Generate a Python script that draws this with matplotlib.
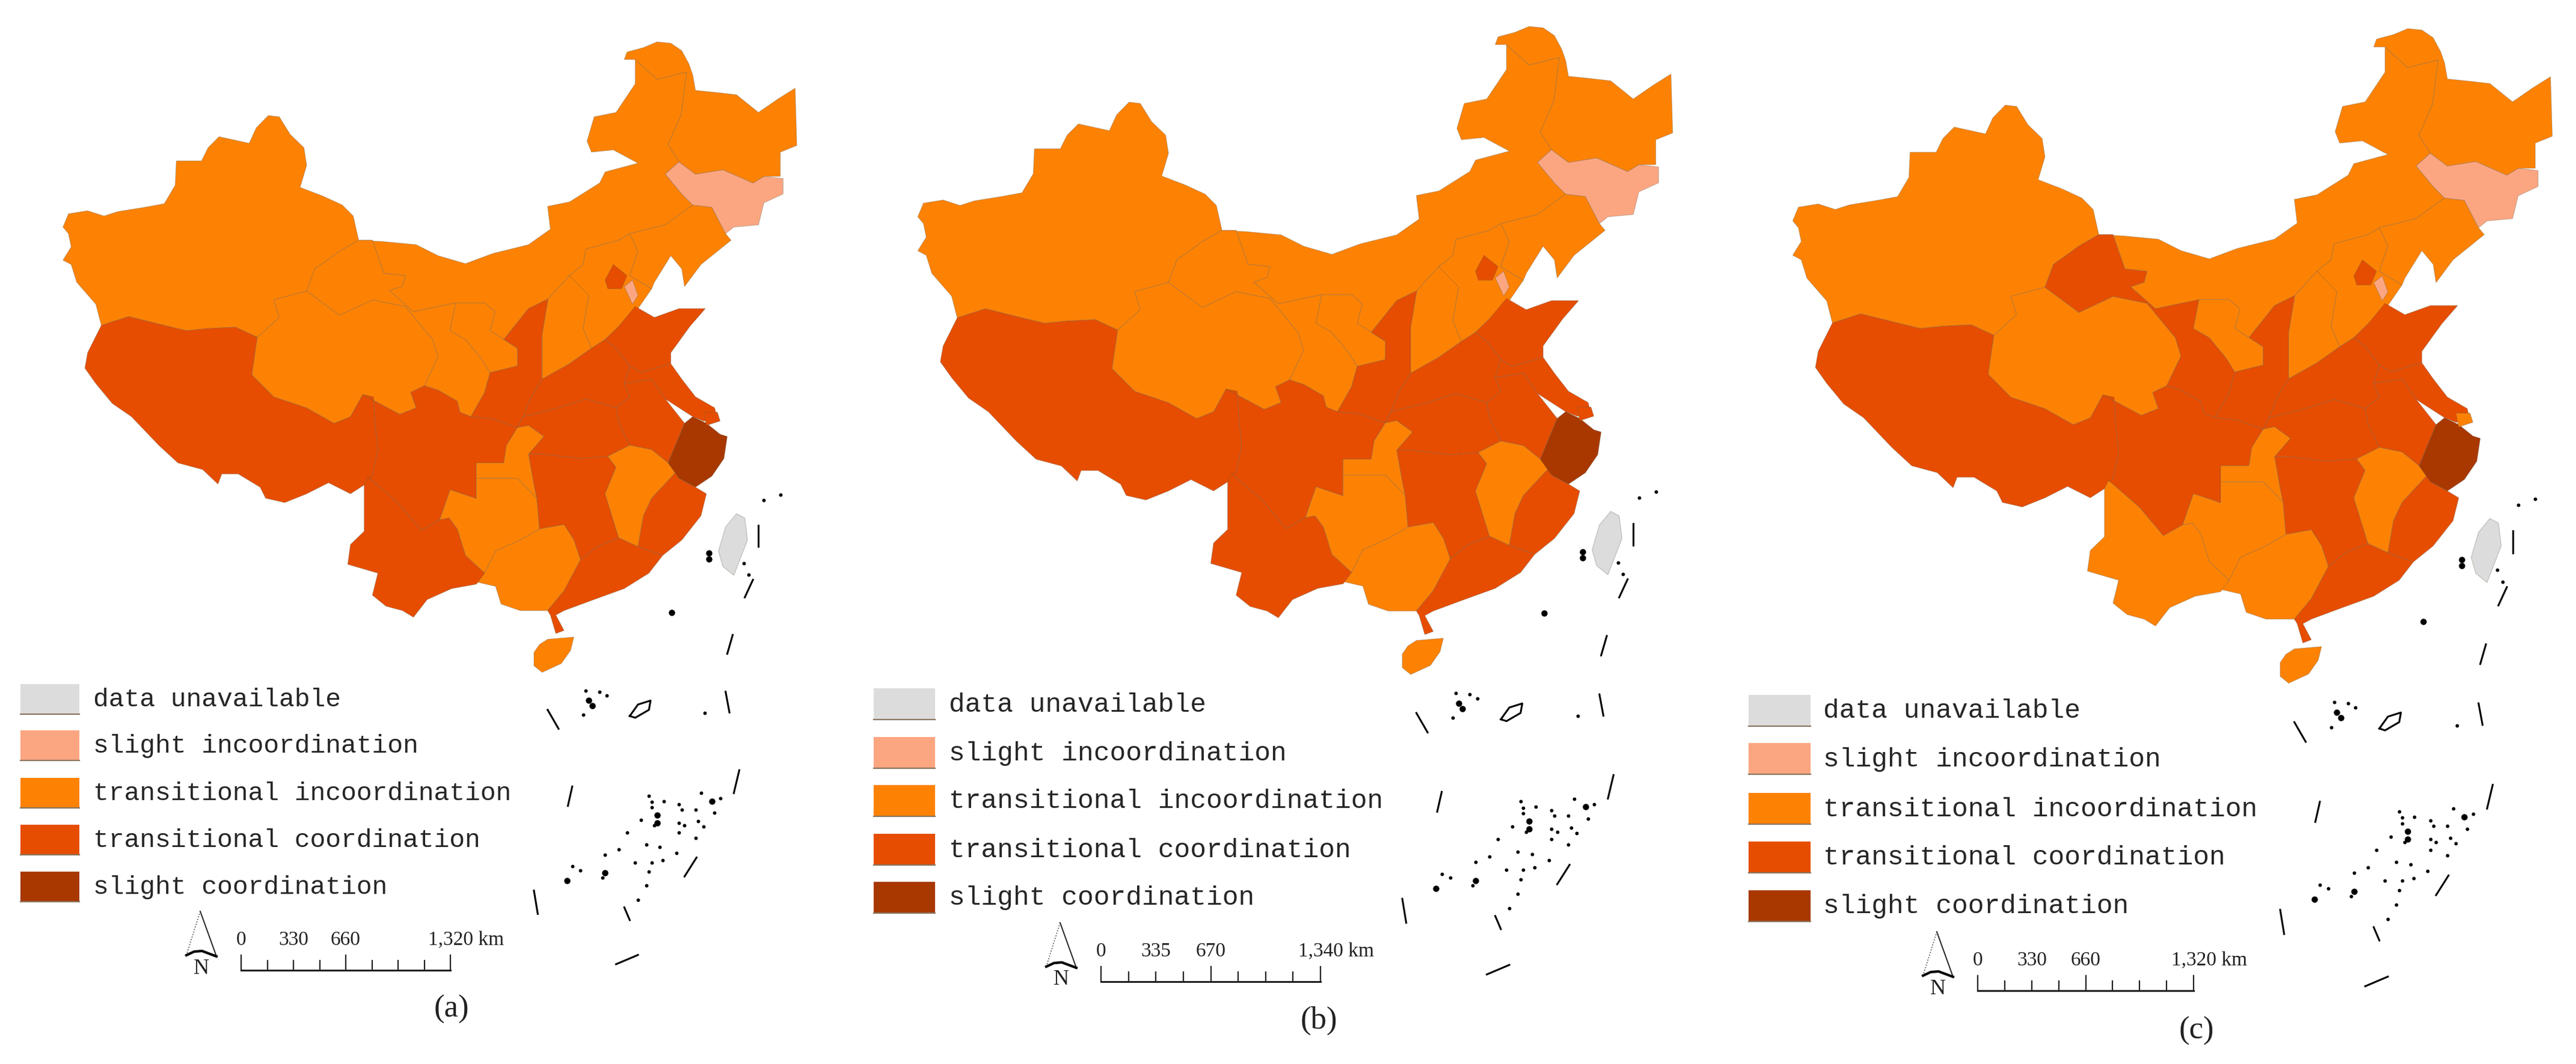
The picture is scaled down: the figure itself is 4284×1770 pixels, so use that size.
"""Coordination level maps of China, panels (a) (b) (c)"""
import matplotlib
matplotlib.use("Agg")
import matplotlib.pyplot as plt
from matplotlib.patches import Rectangle

W, H = 4284, 1770

# class names and colours
legend_labels = ["data unavailable", "slight incoordination", "transitional incoordination",
                 "transitional coordination", "slight coordination"]
legend_colors = ["#dcdcdc", "#fca681", "#fd8204", "#e64d00", "#a83800"]

# province outlines in map units
XJ = [(115,515),(125,485),(160,478),(190,490),(215,480),(265,470),(300,462),(320,420),(322,365),(368,365),(380,335),(400,310),(455,325),(468,290),(490,262),(510,265),(530,305),(555,335),(560,375),(548,425),(590,445),(625,465),(645,490),(655,545),(620,570),(575,610),(560,660),(500,680),(510,720),(470,765),(430,742),(380,745),(340,750),(290,735),(235,718),(185,738),(175,690),(140,640),(130,600),(115,590),(130,560),(125,530)]
XZ = [(185,738),(235,718),(290,735),(340,750),(380,745),(430,742),(470,765),(460,850),(500,900),(560,925),(610,960),(640,945),(662,895),(682,900),(685,960),(690,1020),(680,1080),(665,1100),(640,1120),(600,1095),(560,1120),(520,1140),(485,1130),(475,1105),(435,1075),(405,1075),(398,1098),(370,1065),(325,1050),(290,1010),(240,945),(205,915),(175,870),(155,835),(160,800)]
QH = [(500,680),(560,660),(620,715),(680,680),(740,695),(790,770),(800,810),(775,875),(750,890),(760,925),(730,940),(700,920),(662,895),(640,945),(610,960),(560,925),(500,900),(460,850),(470,765),(510,720)]
GS = [(655,545),(680,545),(701,620),(740,625),(735,649),(711,659),(755,707),(793,697),(832,687),(822,750),(850,770),(880,815),(895,845),(885,890),(860,945),(840,935),(835,910),(800,885),(775,875),(800,810),(790,770),(740,695),(680,680),(620,715),(560,660),(575,610),(620,570)]
SC = [(662,895),(700,920),(730,940),(760,925),(750,890),(775,875),(800,885),(835,910),(840,935),(860,945),(900,950),(945,970),(925,1010),(920,1050),(870,1050),(870,1131),(822,1111),(803,1179),(769,1203),(726,1140),(672,1082),(680,1080),(690,1020),(685,960),(682,900)]
CQ = [(945,970),(965,965),(993,990),(965,1030),(975,1100),(980,1130),(945,1085),(900,1085),(870,1085),(870,1050),(920,1050),(925,1010)]
GZ = [(870,1085),(945,1085),(980,1130),(985,1200),(950,1225),(905,1250),(885,1300),(850,1260),(835,1200),(820,1175),(803,1179),(822,1111),(870,1131)]
GX = [(885,1300),(905,1250),(950,1225),(985,1200),(1030,1190),(1048,1225),(1060,1270),(1030,1340),(1000,1385),(950,1385),(915,1370),(905,1330),(870,1320)]
YN = [(672,1082),(726,1140),(769,1203),(803,1179),(820,1175),(835,1200),(850,1260),(885,1300),(870,1325),(825,1335),(780,1360),(755,1400),(735,1385),(705,1375),(680,1350),(690,1300),(635,1280),(640,1235),(665,1205),(665,1130),(665,1100)]
SN = [(1001,678),(990,760),(990,860),(970,900),(955,945),(945,970),(900,950),(860,945),(885,890),(895,845),(945,830),(945,790),(920,770),(965,700)]
NX = [(822,750),(832,687),(885,687),(904,707),(895,750),(920,770),(945,790),(945,830),(895,845),(880,815),(850,770)]
IM = [(655,545),(700,548),(760,555),(800,580),(850,598),(900,575),(965,555),(1005,520),(1000,468),(1040,458),(1095,415),(1105,390),(1165,370),(1120,340),(1080,345),(1072,320),(1085,265),(1125,255),(1160,190),(1160,135),(1200,180),(1254,163),(1244,260),(1220,328),(1240,367),(1215,395),(1245,440),(1265,465),(1215,510),(1150,530),(1130,545),(1070,565),(1065,600),(1040,625),(1001,678),(965,700),(920,770),(895,750),(904,707),(885,687),(832,687),(793,697),(755,707),(711,659),(735,649),(740,625),(701,620),(680,545)]
HL = [(1140,135),(1145,118),(1175,108),(1200,95),(1225,98),(1245,115),(1258,145),(1265,170),(1270,205),(1310,210),(1345,215),(1385,255),(1420,225),(1452,200),(1455,330),(1425,345),(1425,400),(1395,400),(1375,415),(1320,385),(1270,395),(1240,367),(1220,328),(1244,260),(1254,163),(1200,180),(1160,135)]
JL = [(1215,395),(1240,367),(1270,395),(1320,385),(1375,415),(1395,400),(1430,405),(1430,440),(1395,460),(1385,510),(1340,515),(1325,530),(1300,470),(1265,465),(1245,440)]
LN = [(1150,530),(1215,510),(1265,465),(1300,470),(1325,530),(1335,545),(1280,600),(1250,650),(1245,610),(1225,580),(1195,640),(1190,655),(1150,625),(1165,570)]
SX = [(1001,678),(1040,625),(1065,640),(1075,670),(1065,745),(1080,790),(1040,825),(990,860),(990,760)]
HE = [(1065,600),(1070,565),(1130,545),(1150,530),(1165,570),(1150,625),(1190,655),(1165,700),(1130,740),(1105,770),(1080,790),(1065,745),(1075,670),(1040,625)]
BJ = [(1105,635),(1120,600),(1145,625),(1135,655),(1110,655)]
TJ = [(1140,650),(1155,635),(1165,670),(1155,690)]
SD = [(1105,770),(1130,740),(1160,695),(1195,720),(1240,700),(1288,700),(1260,740),(1225,800),(1225,825),(1170,845),(1150,830),(1125,790)]
HA = [(990,860),(1040,825),(1080,790),(1105,770),(1125,790),(1150,830),(1140,870),(1150,900),(1125,925),(1070,905),(1020,925),(955,945),(970,900)]
JS = [(1150,830),(1170,845),(1225,825),(1245,860),(1270,900),(1305,925),(1310,950),(1285,955),(1265,945),(1215,905),(1190,860),(1140,870)]
AH = [(1140,870),(1190,860),(1215,905),(1250,960),(1220,1050),(1190,1020),(1150,1010),(1130,960),(1125,925),(1150,900)]
SH = [(1285,935),(1310,935),(1315,955),(1290,965)]
ZJ = [(1250,960),(1265,945),(1290,960),(1315,985),(1328,990),(1322,1040),(1300,1080),(1270,1105),(1240,1085),(1220,1050)]
HB = [(955,945),(1020,925),(1070,905),(1125,925),(1130,960),(1150,1010),(1110,1035),(1060,1040),(990,1030),(965,1030),(993,990),(965,965),(945,970)]
HN = [(965,1030),(990,1030),(1060,1040),(1110,1035),(1125,1060),(1105,1120),(1130,1220),(1090,1240),(1060,1270),(1048,1225),(1030,1190),(985,1200),(980,1130),(975,1100)]
JX = [(1110,1035),(1150,1010),(1190,1020),(1220,1050),(1235,1070),(1190,1130),(1175,1170),(1165,1240),(1130,1220),(1105,1120),(1125,1060)]
FJ = [(1190,1130),(1235,1070),(1240,1085),(1270,1105),(1290,1120),(1280,1170),(1245,1225),(1210,1260),(1165,1240),(1175,1170)]
GD = [(1060,1270),(1090,1240),(1130,1220),(1165,1240),(1210,1260),(1185,1300),(1140,1335),(1080,1362),(1030,1385),(1015,1395),(1030,1430),(1015,1437),(1005,1395),(1000,1385),(1030,1340)]
HI = [(975,1480),(985,1462),(1000,1450),(1048,1445),(1042,1475),(1025,1505),(990,1525),(975,1510)]
TW = [(1312,1250),(1325,1195),(1345,1165),(1360,1175),(1365,1225),(1340,1305),(1320,1285)]

provinces = {"XJ": XJ, "XZ": XZ, "QH": QH, "IM": IM, "GS": GS, "NX": NX, "SC": SC, "SN": SN, "SX": SX,
             "HE": HE, "LN": LN, "JL": JL, "HL": HL, "SD": SD, "HA": HA, "JS": JS, "AH": AH, "HB": HB,
             "HN": HN, "JX": JX, "FJ": FJ, "ZJ": ZJ, "SH": SH, "CQ": CQ, "GZ": GZ, "GX": GX, "YN": YN,
             "GD": GD, "HI": HI, "TW": TW, "BJ": BJ, "TJ": TJ}

# class of each province (index into legend_colors), everything else is class 3
class_a = {"TW": 0, "JL": 1, "TJ": 1, "ZJ": 4,
           "XJ": 2, "QH": 2, "IM": 2, "GS": 2, "NX": 2, "SX": 2, "HE": 2, "LN": 2, "HL": 2,
           "JX": 2, "CQ": 2, "GZ": 2, "GX": 2, "HI": 2}
class_b = dict(class_a)
class_c = dict(class_a)
class_c["GS"] = 3
class_c["YN"] = 2
class_c["SH"] = 2
panel_classes = [class_a, class_b, class_c]

# outlying islands, map units
island_lines = [[(1385,1192),(1385,1240)], [(1375,1315),(1360,1355)], [(1338,1440),(1328,1483)],
                [(1000,1610),(1020,1653)], [(1325,1569),(1332,1616)], [(1350,1747),(1340,1799)],
                [(1045,1784),(1037,1828)], [(1272,1945),(1250,1988)], [(975,2020),(982,2073)],
                [(1140,2058),(1150,2087)], [(1165,2166),(1125,2187)], [(1150,1624),(1165,1598),(1188,1589),(1185,1610),(1160,1628),(1150,1624)]]
island_dots_x = [1358,1367,1395,1425,
                 1070,1095,1108,1065,1287,
                 1185,1190,1212,1190,1170,1195,1145,1240,1245,1270,1280,1315,1305,
                 1240,1275,1250,1285,1240,1270,1180,1205,1130,1105,1235,1210,1160,1190,1185,1180,1165,
                 1045,1060,1100]
island_dots_y = [1278,1303,1135,1122,
                 1566,1569,1578,1621,1617,
                 1805,1819,1817,1831,1860,1872,1889,1825,1837,1837,1799,1811,1843,
                 1866,1863,1872,1875,1889,1901,1916,1921,1927,1939,1935,1951,1956,1956,1977,2009,2041,
                 1965,1974,1990]
# the bigger blobs
island_blobs_x = [1227, 1295, 1295, 1075, 1082, 1200, 1200, 1300, 1035, 1105]
island_blobs_y = [1390, 1255, 1268, 1589, 1601, 1849, 1866, 1817, 1997, 1980]

# per panel layout: map axes box (left, top, width, height in pixels)
map_boxes = [(0, 0, 1428, 1150), (1418.6, -27.6, 1469, 1182), (2873, -24.7, 1478, 1194)]
swatch_x = [34, 1453, 2908]
swatch_w = [98, 102, 103]
swatch_tops = [[1138, 1215, 1294, 1372, 1450], [1145, 1226, 1306, 1387, 1467], [1156, 1236, 1319, 1400, 1481]]
swatch_h = [50, 52, 52]
text_x = [155, 1578, 3032]
text_size = [31, 32, 32]

# scale bars
bar_km = [[0, 330, 660, 1320], [0, 335, 670, 1340], [0, 330, 660, 1320]]
bar_left = [401, 1831, 3289]
bar_right = [749, 2196, 3648]
bar_top = [1589, 1608, 1623]
panel_names = ["(a)", "(b)", "(c)"]
name_xy = [(751, 1679), (2193, 1698), (3653, 1715)]

plt.rcParams["font.family"] = ["Liberation Serif", "DejaVu Serif"]
fig = plt.figure(figsize=(W / 100, H / 100), dpi=100, facecolor="white")

for p in range(3):
    l, t, w, h = map_boxes[p]
    ax = fig.add_axes([l / W, 1 - (t + h) / H, w / W, h / H])
    ax.set_xlim(0, 1568)
    ax.set_ylim(1568, 0)
    ax.axis("off")
    ax.patch.set_alpha(0)
    # the island marks lie below the map box, so no clipping
    for name, pts in provinces.items():
        c = legend_colors[panel_classes[p].get(name, 3)]
        xs = [q[0] for q in pts]
        ys = [q[1] for q in pts]
        ax.fill(xs, ys, facecolor=c, edgecolor=(0.42, 0.36, 0.28, 0.35), linewidth=0.8, clip_on=False)
    for seg in island_lines:
        ax.plot([q[0] for q in seg], [q[1] for q in seg], color="black", linewidth=2.2, clip_on=False)
    ax.plot(island_dots_x, island_dots_y, "o", color="black", markersize=3.2, clip_on=False)
    ax.plot(island_blobs_x, island_blobs_y, "o", color="black", markersize=6.5, clip_on=False)

# overlay in pixel coordinates for legend, scale bar and names
ov = fig.add_axes([0, 0, 1, 1])
ov.set_xlim(0, W)
ov.set_ylim(H, 0)
ov.axis("off")
ov.patch.set_alpha(0)

for p in range(3):
    for i, label in enumerate(legend_labels):
        top = swatch_tops[p][i]
        ov.add_patch(Rectangle((swatch_x[p], top), swatch_w[p], swatch_h[p], facecolor=legend_colors[i], edgecolor="none"))
        ov.plot([swatch_x[p], swatch_x[p] + swatch_w[p]], [top + swatch_h[p]] * 2, color="#8a7660", linewidth=1.6)
        ov.text(text_x[p], top + swatch_h[p] / 2 + 1, label, family="Liberation Mono", fontsize=text_size[p],
                color="#262626", va="center", ha="left")

    left, right, top = bar_left[p], bar_right[p], bar_top[p]
    base = top + 25
    ov.plot([left, right], [base, base], color="#222222", linewidth=2.2)
    for k in range(9):
        tx = left + (right - left) * k / 8
        ov.plot([tx, tx], [top if k % 4 == 0 else top + 9, base], color="#222222", linewidth=1.6)
    total = bar_km[p][-1]
    for km in bar_km[p][:-1]:
        ov.text(left + (right - left) * km / total, top - 25, str(km), fontsize=24, color="#222222",
                ha="center", va="center")
    ov.text(right - 37, top - 25, f"{total:,} km", fontsize=24, color="#222222", ha="left", va="center")

    # north arrow
    ov.plot([left - 68, left - 41], [top - 73, top + 2], color="#222222", linewidth=1.4)
    ov.plot([left - 68, left - 91], [top - 73, top], color="#444444", linewidth=1.2, linestyle=":")
    ov.plot([left - 91, left - 78, left - 65, left - 41], [top, top - 6, top - 7, top + 2], color="black", linewidth=3)
    ov.text(left - 66, top + 22, "N", fontsize=26, color="#222222", ha="center", va="center")

    ov.text(name_xy[p][0], name_xy[p][1], panel_names[p], fontsize=38, color="#222222", ha="center", va="center")

fig.savefig("out.png", dpi=100, facecolor="white")
